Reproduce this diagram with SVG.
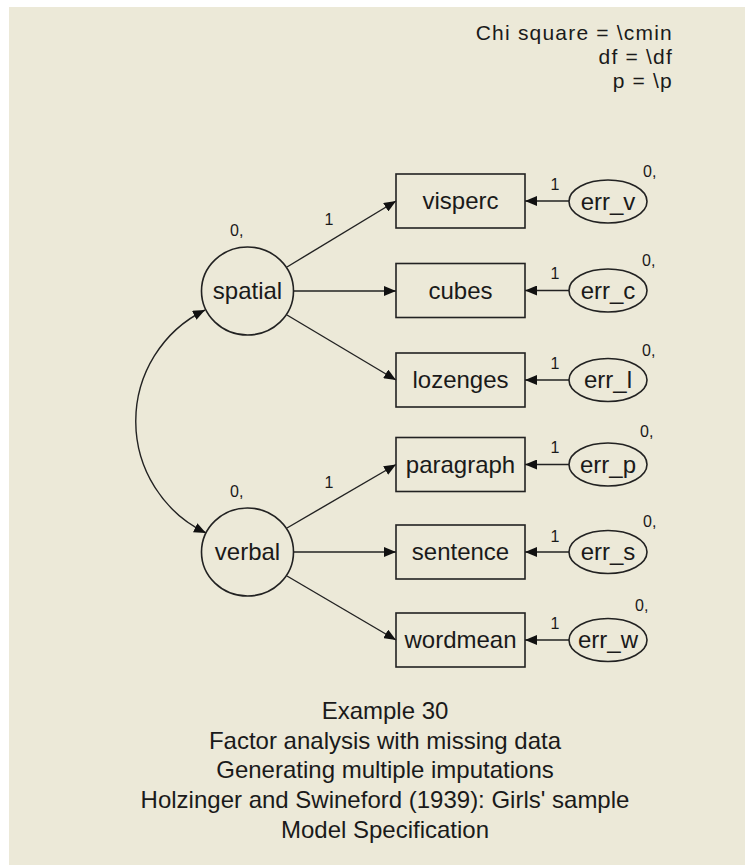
<svg xmlns="http://www.w3.org/2000/svg" width="745" height="865" viewBox="0 0 745 865">
<defs>
<style>
.bg{fill:#ECE9D8}
.node{fill:none;stroke:#222;stroke-width:1.6}
.lbl{font-family:"Liberation Sans",Arial,sans-serif;font-size:24px;fill:#1a1a1a;text-anchor:middle}
.sm{font-family:"Liberation Sans",Arial,sans-serif;font-size:16px;fill:#1a1a1a}
.cap{font-family:"Liberation Sans",Arial,sans-serif;font-size:24px;fill:#1a1a1a}
.fit{font-family:"Liberation Sans",Arial,sans-serif;font-size:21px;letter-spacing:1.2px;fill:#1a1a1a;text-anchor:end}
.edge{fill:none;stroke:#222;stroke-width:1.4}
</style>
<marker id="ah" viewBox="0 0 12 10" refX="12" refY="5" markerWidth="12" markerHeight="10" markerUnits="userSpaceOnUse" orient="auto-start-reverse">
<path d="M0,0 L12,5 L0,10 Z" fill="#111"/>
</marker>
</defs>
<rect x="0" y="0" width="745" height="865" fill="#ffffff"/>
<rect class="bg" x="9" y="7" width="736" height="858"/>

<g id="fit">
<text class="fit" x="673" y="40">Chi square = \cmin</text>
<text class="fit" x="673" y="64">df = \df</text>
<text class="fit" x="673" y="88">p = \p</text>
</g>

<g id="connectors">
<path class="edge" marker-end="url(#ah)" d="M287,267 L396,201"/>
<path class="edge" marker-end="url(#ah)" d="M294,291 L396,291"/>
<path class="edge" marker-end="url(#ah)" d="M287,315 L396,380"/>
<path class="edge" marker-end="url(#ah)" d="M287,528 L396,464.5"/>
<path class="edge" marker-end="url(#ah)" d="M294,552 L396,552"/>
<path class="edge" marker-end="url(#ah)" d="M287,576 L396,640"/>
<path class="edge" marker-start="url(#ah)" marker-end="url(#ah)" d="M205,310 A124,124 0 0 0 206,533"/>
<path class="edge" marker-end="url(#ah)" d="M569,201 L525,201"/>
<path class="edge" marker-end="url(#ah)" d="M569,290.5 L525,290.5"/>
<path class="edge" marker-end="url(#ah)" d="M569,380 L525,380"/>
<path class="edge" marker-end="url(#ah)" d="M569,464.5 L525,464.5"/>
<path class="edge" marker-end="url(#ah)" d="M569,552 L525,552"/>
<path class="edge" marker-end="url(#ah)" d="M569,640 L525,640"/>
<text class="sm" x="329" y="225" text-anchor="middle">1</text>
<text class="sm" x="329" y="488" text-anchor="middle">1</text>
<text class="sm" x="555" y="190" text-anchor="middle">1</text>
<text class="sm" x="555" y="279" text-anchor="middle">1</text>
<text class="sm" x="555" y="369" text-anchor="middle">1</text>
<text class="sm" x="555" y="453" text-anchor="middle">1</text>
<text class="sm" x="555" y="542" text-anchor="middle">1</text>
<text class="sm" x="555" y="629" text-anchor="middle">1</text>
</g>

<g id="spatial">
<ellipse class="node" cx="247.5" cy="291" rx="46" ry="44"/>
<text class="lbl" x="247.5" y="299">spatial</text>
<text class="sm" x="230" y="236">0,</text>
</g>
<g id="verbal">
<ellipse class="node" cx="247.5" cy="552" rx="46" ry="44"/>
<text class="lbl" x="247.5" y="560">verbal</text>
<text class="sm" x="230" y="497">0,</text>
</g>

<g id="visperc">
<rect class="node" x="396" y="174" width="129" height="54"/>
<text class="lbl" x="460.5" y="209">visperc</text>
</g>
<g id="cubes">
<rect class="node" x="396" y="263.5" width="129" height="54"/>
<text class="lbl" x="460.5" y="298.5">cubes</text>
</g>
<g id="lozenges">
<rect class="node" x="396" y="353" width="129" height="54"/>
<text class="lbl" x="460.5" y="388">lozenges</text>
</g>
<g id="paragraph">
<rect class="node" x="396" y="437.5" width="129" height="54"/>
<text class="lbl" x="460.5" y="472.5">paragraph</text>
</g>
<g id="sentence">
<rect class="node" x="396" y="525" width="129" height="54"/>
<text class="lbl" x="460.5" y="560">sentence</text>
</g>
<g id="wordmean">
<rect class="node" x="396" y="613" width="129" height="54"/>
<text class="lbl" x="460.5" y="648">wordmean</text>
</g>

<g id="err_v">
<ellipse class="node" cx="608" cy="201.5" rx="39" ry="21.5"/>
<text class="lbl" x="608" y="209.5">err_v</text>
<text class="sm" x="643" y="177">0,</text>
</g>
<g id="err_c">
<ellipse class="node" cx="608" cy="290.5" rx="39" ry="21.5"/>
<text class="lbl" x="608" y="298.5">err_c</text>
<text class="sm" x="642" y="266">0,</text>
</g>
<g id="err_l">
<ellipse class="node" cx="608" cy="380" rx="39" ry="21.5"/>
<text class="lbl" x="608" y="388">err_l</text>
<text class="sm" x="642" y="356">0,</text>
</g>
<g id="err_p">
<ellipse class="node" cx="608" cy="464.5" rx="39" ry="21.5"/>
<text class="lbl" x="608" y="472.5">err_p</text>
<text class="sm" x="640" y="437">0,</text>
</g>
<g id="err_s">
<ellipse class="node" cx="608" cy="552" rx="39" ry="21.5"/>
<text class="lbl" x="608" y="560">err_s</text>
<text class="sm" x="643" y="527">0,</text>
</g>
<g id="err_w">
<ellipse class="node" cx="608" cy="640" rx="39" ry="21.5"/>
<text class="lbl" x="608" y="648">err_w</text>
<text class="sm" x="635" y="611">0,</text>
</g>

<g id="caption" class="cap" text-anchor="middle">
<text x="385" y="719" text-anchor="middle">Example 30</text>
<text x="385" y="749" text-anchor="middle">Factor analysis with missing data</text>
<text x="385" y="778" text-anchor="middle">Generating multiple imputations</text>
<text x="385" y="808" text-anchor="middle">Holzinger and Swineford (1939): Girls' sample</text>
<text x="385" y="838" text-anchor="middle">Model Specification</text>
</g>
</svg>
